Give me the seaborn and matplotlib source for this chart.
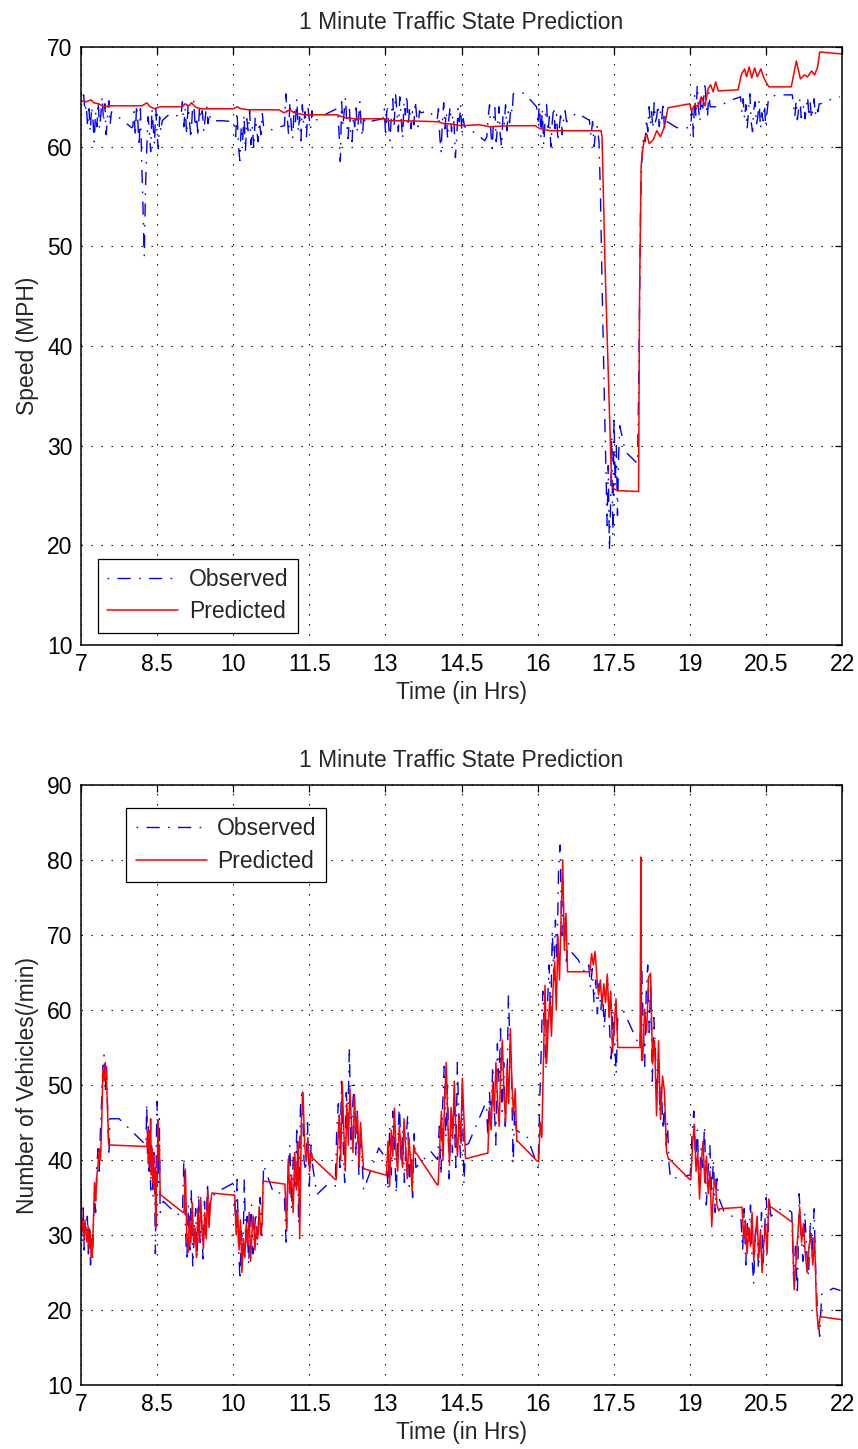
import numpy as np
import matplotlib
matplotlib.use("Agg")
import matplotlib.pyplot as plt
import seaborn as sns

# ---------------------------------------------------------------------------
# Speed panel (MPH).  Predicted: explicit (hour, value) points.
# ---------------------------------------------------------------------------
pred_speed_t = [7.00, 7.10, 7.20, 7.25, 7.35, 7.45, 7.60, 8.00, 8.20, 8.30, 8.36, 8.45,
                8.55, 9.00, 9.05, 9.12, 9.18, 9.25, 9.35, 10.00, 10.08, 10.15, 10.30,
                10.90, 11.00, 11.12, 11.20, 11.40, 12.05, 12.20, 12.40, 13.00, 13.05,
                13.40, 14.05, 14.15, 14.25, 14.50, 14.85, 15.05, 15.45, 15.95, 16.05,
                16.25, 17.25, 17.27, 17.33, 17.40, 17.46, 17.50, 17.56, 17.99, 18.01,
                18.04, 18.07, 18.10, 18.15, 18.20, 18.28, 18.35, 18.42, 18.50, 18.57,
                19.00, 19.03, 19.10, 19.16, 19.23, 19.30, 19.36, 19.41, 19.46, 19.51,
                19.56, 19.95, 20.02, 20.08, 20.12, 20.17, 20.22, 20.28, 20.33, 20.40,
                20.46, 20.50, 20.56, 21.00, 21.10, 21.18, 21.26, 21.32, 21.40, 21.46,
                21.52, 21.56, 22.00]
pred_speed_v = [64.6, 64.5, 64.7, 64.4, 64.3, 64.0, 64.1, 64.1, 64.1, 64.4, 64.0, 63.8,
                64.0, 64.0, 64.3, 64.1, 64.4, 64.0, 63.8, 63.8, 64.0, 63.8, 63.7,
                63.7, 63.4, 63.7, 63.4, 63.2, 63.2, 62.9, 62.8, 62.8, 62.6,
                62.6, 62.5, 62.3, 62.3, 62.1, 62.2, 62.0, 62.1, 62.1, 61.8,
                61.6, 61.6, 61.0, 48.0, 36.0, 26.0, 25.7, 25.5, 25.4, 45.0,
                58.0, 59.6, 60.6, 61.3, 60.3, 60.7, 61.6, 61.0, 62.0, 63.9,
                64.3, 63.6, 64.2, 64.0, 65.0, 64.1, 65.8, 66.2, 65.5, 66.5,
                65.6, 65.7, 67.3, 67.8, 67.0, 68.0, 66.9, 67.9, 67.0, 67.8,
                66.9, 66.5, 66.0, 66.0, 68.6, 66.8, 67.2, 67.0, 67.6, 67.2,
                68.0, 69.5, 69.3]

# Observed speed: runs of roughly 1-2 minute samples (start hour, end hour, values)
obs_speed_start = [7.00, 7.78, 8.02, 8.75, 8.97, 9.80, 10.02, 10.76, 11.01, 11.84, 12.06,
                   12.76, 12.95, 13.86, 14.02, 14.73, 15.00, 15.52, 15.98, 16.77, 17.02,
                   17.24, 17.37, 17.73, 17.99, 18.07, 18.75, 19.02, 19.56, 20.00, 20.70,
                   20.85, 21.02, 21.58, 21.96]
obs_speed_end = [7.60, 8.00, 8.60, 8.75, 9.56, 10.00, 10.60, 10.99, 11.58, 12.04, 12.60,
                 12.76, 13.70, 14.00, 14.56, 14.96, 15.50, 15.75, 16.57, 17.00, 17.21,
                 17.35, 17.62, 17.97, 18.05, 18.55, 19.00, 19.40, 19.78, 20.55, 20.70,
                 21.00, 21.55, 21.76, 21.96]
obs_speed_vals = [
    [65.5, 64.8, 65.2, 63.5, 64.2, 62.0, 63.8, 61.5, 64.0, 62.8, 60.5, 63.5, 62.0, 64.5,
     61.8, 63.2, 65.0, 62.5, 64.3, 61.2, 63.0, 64.6, 62.2, 63.5],
    [62.8, 61.9],
    [62.0, 63.5, 61.0, 64.2, 62.5, 60.0, 63.8, 58.5, 54.0, 49.0, 56.0, 60.0, 63.0, 61.5,
     59.5, 63.8, 62.0, 60.2, 64.0, 61.2, 59.8, 63.0, 61.5, 62.6],
    [63.3],
    [63.0, 64.5, 62.0, 63.8, 61.2, 64.2, 62.5, 60.8, 63.5, 64.6, 62.0, 63.0, 61.0, 64.0,
     62.8, 63.6, 61.5, 62.9, 64.2, 62.3, 63.4, 62.6],
    [62.6, 62.5],
    [62.5, 61.0, 63.5, 60.2, 58.6, 62.0, 60.5, 63.2, 59.5, 62.8, 61.5, 63.6, 60.2, 62.0,
     59.8, 63.0, 61.8, 60.5, 62.5, 61.2, 63.4, 62.0],
    [61.7, 62.1],
    [62.1, 65.3, 63.0, 61.2, 64.5, 62.0, 60.8, 63.8, 62.5, 64.8, 61.5, 63.0, 60.6, 64.2,
     62.2, 63.5, 61.0, 64.0, 62.8, 61.8, 63.6, 62.5],
    [63.3, 63.8],
    [63.8, 61.5, 58.5, 64.5, 62.0, 63.6, 64.9, 62.2, 60.8, 63.8, 61.2, 60.5, 63.0, 62.0,
     64.3, 61.5, 62.8, 64.5, 62.0, 61.0, 63.2, 62.4],
    [62.6],
    [62.8, 63.8, 61.0, 64.2, 62.5, 60.6, 63.0, 64.8, 62.0, 65.3, 63.5, 61.5, 65.0, 62.8,
     60.8, 64.5, 63.2, 65.2, 62.0, 64.0, 61.8, 63.5, 62.2, 64.6, 63.0, 62.0, 63.6, 63.4],
    [63.6, 62.7],
    [62.7, 63.8, 61.0, 59.5, 62.5, 64.4, 61.8, 63.5, 60.8, 62.9, 64.0, 61.5, 63.2, 62.2,
     58.9, 61.0, 63.8, 62.5, 64.2, 61.2, 62.8, 62.0],
    [61.5, 60.6],
    [61.0, 63.0, 64.2, 61.5, 59.8, 62.8, 63.9, 60.5, 62.0, 64.0, 61.2, 60.0, 63.0, 62.2,
     64.2, 61.6, 63.5, 62.4, 64.0, 63.4],
    [65.3, 65.5, 65.3],
    [64.0, 62.2, 64.5, 61.0, 63.8, 60.2, 62.8, 64.2, 61.5, 63.0, 60.0, 62.5, 64.0, 61.8,
     63.2, 60.5, 62.0, 63.5, 61.2, 62.8, 63.6, 62.5],
    [63.4, 62.7],
    [62.7, 61.0, 62.5, 60.0, 61.8, 62.0, 60.5],
    [55.0, 47.0, 40.0, 33.0, 27.0],
    [22.0, 28.0, 19.5, 24.0, 31.0, 21.0, 33.0, 26.0, 30.0, 23.0, 29.0, 32.0],
    [29.4, 28.8, 28.2],
    [35.0, 45.0, 54.0, 58.0],
    [60.0, 61.2, 60.5, 62.8, 61.5, 64.0, 62.2, 63.5, 61.8, 64.4, 62.5, 63.0, 64.2, 62.0,
     63.6, 62.8, 64.5, 61.9, 63.2, 62.5],
    [61.9, 61.9],
    [62.0, 64.0, 61.0, 65.2, 63.0, 66.2, 63.8, 62.5, 65.0, 63.5, 64.8, 66.5, 64.2, 63.0,
     65.5, 64.0],
    [64.0, 64.6],
    [65.0, 63.5, 64.8, 62.8, 64.2, 61.8, 63.5, 65.3, 62.5, 61.5, 63.8, 64.5, 62.2, 63.0,
     64.6, 61.8, 63.4, 62.6, 64.2, 62.0, 63.5, 64.8],
    [65.2],
    [65.2, 65.2],
    [65.2, 64.0, 63.0, 64.6, 62.7, 63.8, 64.8, 62.9, 63.5, 64.2, 62.8, 63.9, 65.0, 63.0,
     64.4, 62.8, 63.6, 64.8, 63.2, 64.0, 63.5, 64.3],
    [64.3, 64.7],
    [65.0],
]

# ---------------------------------------------------------------------------
# Volume panel (vehicles / min), both series stored as runs
# ---------------------------------------------------------------------------
obs_vol_start = [7.00, 7.24, 7.57, 8.28, 8.62, 9.00, 9.78, 10.02, 10.60, 11.01, 11.65,
                 12.01, 12.87, 13.02, 13.90, 14.03, 14.64, 14.99, 15.62, 16.01, 16.67,
                 16.80, 17.01, 17.58, 18.02, 19.01, 19.67, 20.01, 20.80, 21.01, 21.60,
                 21.97]
obs_vol_end = [7.23, 7.55, 7.75, 8.56, 8.90, 9.55, 10.00, 10.56, 10.99, 11.57, 11.85,
               12.57, 13.00, 13.60, 14.02, 14.58, 14.97, 15.58, 15.80, 16.60, 16.67,
               16.93, 17.55, 17.70, 18.62, 19.57, 19.90, 20.60, 20.98, 21.56, 21.83,
               21.97]
obs_vol_vals = [
    [33.0, 29.0, 34.2, 28.0, 31.5, 30.0, 32.5, 27.5, 30.8, 26.0, 29.5, 27.0],
    [30.0, 35.5, 33.0, 39.0, 41.5, 38.5, 44.0, 48.0, 52.5, 54.0, 49.0, 53.0, 46.0, 40.5],
    [45.5, 45.5],
    [42.0, 47.5, 40.5, 45.0, 38.5, 44.0, 36.0, 42.5, 39.5, 35.0, 41.0, 37.5, 27.5, 40.0,
     47.8, 43.0, 37.0, 45.5, 33.0],
    [34.5, 32.7],
    [33.0, 40.3, 31.0, 26.5, 34.0, 28.0, 36.0, 25.8, 30.5, 33.5, 27.0, 35.5, 29.0, 32.0,
     26.8, 34.5, 30.0, 37.0, 32.5, 35.0],
    [36.1, 36.9],
    [36.9, 31.0, 37.4, 28.5, 24.0, 30.5, 27.0, 37.4, 29.0, 32.5, 26.0, 31.5, 34.0, 27.5,
     30.5, 33.0, 28.5, 32.0, 35.0, 30.0],
    [39.3, 35.6, 35.6],
    [35.0, 28.5, 38.0, 42.0, 33.5, 40.5, 36.0, 44.5, 31.5, 47.0, 49.5, 40.0, 38.5, 45.0,
     36.5, 42.0, 39.0],
    [35.4, 36.7],
    [36.5, 44.0, 47.5, 39.0, 50.5, 42.5, 37.0, 49.0, 45.0, 55.0, 41.5, 47.0, 50.0, 40.5,
     46.5, 38.0, 44.0, 40.0, 36.0],
    [41.6, 40.3],
    [40.3, 36.0, 44.5, 38.0, 46.5, 41.5, 35.5, 43.0, 47.5, 39.5, 44.0, 37.0, 42.5, 46.0,
     36.5, 41.0, 35.0, 43.5, 39.0],
    [41.1, 40.1],
    [40.1, 44.5, 38.0, 47.0, 52.5, 43.0, 50.0, 37.5, 45.5, 41.0, 48.0, 39.0, 53.0, 44.5,
     40.0, 49.5, 36.8, 42.0],
    [42.2, 47.5],
    [47.5, 43.0, 49.0, 45.5, 52.5, 47.0, 42.0, 55.5, 50.5, 57.5, 46.5, 53.0, 44.5, 48.5,
     62.0, 55.0, 51.0, 39.5, 47.0, 44.0],
    [43.8, 43.0],
    [39.0, 47.5, 55.0, 62.5, 57.0, 52.0, 61.0, 66.0, 58.5, 70.5, 64.0, 72.0, 66.5, 79.0,
     82.0, 70.0, 74.5, 68.0, 66.5, 69.0],
    [67.7],
    [66.7, 65.0],
    [66.0, 63.0, 65.5, 61.0, 64.0, 59.5, 63.5, 60.0, 62.5, 57.5, 61.5, 64.5, 58.0, 53.5,
     60.0, 56.0, 51.5],
    [59.0, 59.8],
    [55.0, 66.5, 58.0, 52.5, 62.0, 66.0, 57.0, 63.5, 50.5, 59.0, 55.0, 48.0, 53.5, 46.5,
     50.0, 44.0, 47.5, 42.0, 45.0, 39.5, 37.5],
    [38.0, 43.5, 46.5, 40.0, 44.0, 36.5, 41.5, 39.0, 44.5, 34.0, 38.5, 42.0, 35.5, 40.0,
     33.0, 37.5, 35.0],
    [33.2, 32.2],
    [32.0, 28.0, 33.5, 26.0, 31.5, 29.0, 34.0, 27.0, 23.5, 30.0, 32.5, 25.5, 28.5, 33.0,
     26.0, 31.0, 35.0, 30.5, 34.0, 32.5],
    [33.5, 33.2],
    [33.0, 24.0, 28.5, 22.0, 35.5, 30.0, 26.5, 33.0, 28.0, 24.5, 32.0, 27.0, 33.5, 24.0,
     19.0, 16.5],
    [22.1, 22.9],
    [22.6],
]

pred_vol_start = [7.00, 7.22, 7.57, 8.30, 8.58, 9.03, 9.58, 10.03, 10.59, 11.02, 11.59,
                  12.03, 12.59, 13.02, 13.61, 14.04, 14.60, 15.02, 15.61, 16.02, 16.61,
                  17.03, 17.60, 18.02, 18.07, 18.60, 19.02, 19.59, 20.03, 20.61, 21.02,
                  21.59]
pred_vol_end = [7.20, 7.55, 8.28, 8.56, 9.01, 9.55, 10.01, 10.57, 11.00, 11.57, 12.01,
                12.57, 13.00, 13.59, 14.02, 14.58, 15.00, 15.59, 16.00, 16.59, 17.01,
                17.58, 18.01, 18.05, 18.58, 19.00, 19.57, 20.01, 20.59, 21.00, 21.57,
                22.00]
pred_vol_vals = [
    [36.2, 30.5, 31.8, 29.5, 32.0, 30.2, 29.0, 31.2, 28.2, 30.5, 27.0],
    [27.0, 31.5, 37.0, 34.5, 38.0, 39.5, 41.5, 40.0, 45.0, 52.0, 50.5, 53.0, 51.0, 46.0,
     42.0],
    [42.0, 41.8],
    [41.8, 44.0, 39.5, 43.5, 40.0, 45.5, 38.0, 41.5, 37.0, 40.5, 36.0, 39.0, 31.0, 38.5,
     36.5, 45.3, 40.0, 42.0, 35.5],
    [35.3, 33.0],
    [33.0, 38.8, 30.0, 27.7, 32.5, 29.0, 34.3, 28.5, 31.0, 27.0, 33.5, 29.0, 35.0, 30.5,
     28.2, 33.0, 29.5, 35.9, 31.0, 34.0],
    [35.6, 35.3],
    [35.3, 30.0, 33.5, 28.0, 32.0, 25.0, 29.5, 27.0, 31.5, 28.5, 33.0, 26.5, 30.5, 32.5,
     28.0, 31.0, 29.5, 33.8, 30.0, 31.5],
    [37.2, 36.8],
    [36.8, 30.8, 40.1, 35.5, 38.0, 33.0, 41.0, 36.0, 42.5, 29.5, 45.0, 49.0, 42.0, 39.8,
     43.0, 38.5, 41.0, 40.1],
    [40.1, 37.4],
    [37.4, 42.0, 46.0, 40.0, 50.4, 44.0, 38.5, 47.5, 42.0, 49.5, 45.0, 41.0, 48.5, 43.5,
     46.0, 39.0, 45.0, 41.5, 38.8],
    [38.8, 38.0],
    [38.0, 42.5, 36.5, 44.0, 40.5, 46.9, 41.0, 38.5, 44.5, 42.0, 39.0, 45.5, 41.5, 37.5,
     43.0, 40.0, 35.9, 42.0, 40.9],
    [40.9, 36.7],
    [36.7, 42.0, 46.5, 40.0, 48.0, 53.0, 45.0, 39.5, 47.0, 43.0, 50.5, 44.0, 40.5, 46.0,
     42.5, 50.9, 45.5, 40.2],
    [40.2, 40.9],
    [40.9, 47.0, 44.0, 50.0, 46.5, 53.0, 48.0, 44.5, 51.5, 56.0, 49.0, 45.0, 52.5, 47.5,
     57.5, 50.0, 46.0, 49.5, 42.5],
    [42.5, 39.8],
    [39.8, 45.0, 43.0, 53.0, 63.3, 52.9, 58.0, 61.5, 56.5, 63.0, 66.5, 60.0, 69.8, 64.0,
     72.5, 80.0, 68.0, 72.9, 65.1],
    [65.1, 65.1],
    [65.1, 67.5, 66.0, 67.8, 64.5, 62.0, 64.0, 60.5, 63.5, 61.0, 64.8, 59.0, 62.5, 54.3,
     58.0, 61.5, 55.0],
    [55.0, 55.0],
    [55.0, 80.4, 53.3],
    [53.3, 60.1, 57.0, 64.4, 64.9, 52.8, 55.9, 45.9, 55.9, 45.4, 51.2, 49.1, 41.1, 40.1],
    [40.1, 37.4],
    [37.4, 42.0, 44.8, 38.5, 41.0, 34.8, 39.5, 42.5, 37.0, 40.5, 35.5, 38.5, 31.1, 36.0,
     37.4, 34.0, 33.2],
    [33.5, 33.7],
    [33.7, 29.5, 32.0, 27.5, 31.0, 28.5, 33.0, 26.5, 30.0, 32.5, 27.0, 30.5, 25.0, 29.0,
     31.5, 27.5, 34.8, 33.7],
    [33.7, 31.8],
    [31.8, 22.7, 26.5, 30.0, 33.7, 29.0, 31.5, 27.4, 25.0, 28.5, 30.1, 26.0, 29.5, 20.5,
     17.4, 19.2],
    [19.1, 18.7],
]

hour_ticks = [7, 8.5, 10, 11.5, 13, 14.5, 16, 17.5, 19, 20.5, 22]
hour_labels = ["7", "8.5", "10", "11.5", "13", "14.5", "16", "17.5", "19", "20.5", "22"]

TITLE = "1 Minute Traffic State Prediction"
XLABEL = "Time (in Hrs)"


def expand(starts, ends, vals):
    """Turn runs of samples into one continuous time/value pair of arrays."""
    t = np.concatenate([np.linspace(a, b, len(v)) for a, b, v in zip(starts, ends, vals)])
    y = np.concatenate([np.asarray(v, dtype=float) for v in vals])
    return t, y


sns.set_style("white")
plt.rcParams["font.family"] = ["Liberation Sans", "DejaVu Sans"]
plt.rcParams["font.size"] = 16.5
plt.rcParams["lines.scale_dashes"] = False

# MATLAB-like '-.' : starts on the dot, then a long dash
DASHDOT = (15.5, (9.5, 6.0, 1.2, 6.0))
GRID = (0, (1.0, 6.2))
FS = 16.5


def draw_panel(ax, obs_t, obs_v, pred_t, pred_v, yticks, ylabel, leg_loc, leg_anchor):
    sns.lineplot(x=obs_t, y=obs_v, ax=ax, color="blue", lw=1.0, linestyle=DASHDOT,
                 label="Observed", estimator=None, sort=False)
    sns.lineplot(x=pred_t, y=pred_v, ax=ax, color="red", lw=1.1,
                 label="Predicted", estimator=None, sort=False)
    ax.set_xlim(7, 22)
    ax.set_ylim(yticks[0], yticks[-1])
    ax.set_xticks(hour_ticks)
    ax.set_xticklabels(hour_labels)
    ax.set_yticks(yticks)
    ax.grid(True, color="black", lw=0.8, linestyle=GRID)
    ax.set_axisbelow(True)
    ax.tick_params(direction="in", length=5, width=0.9, top=True, right=True,
                   labelsize=FS, pad=6, colors="black")
    for s in ax.spines.values():
        s.set_color("black")
        s.set_linewidth(1.1)
    ax.set_title(TITLE, fontsize=FS, pad=13)
    ax.set_xlabel(XLABEL, fontsize=FS, labelpad=3)
    ax.set_ylabel(ylabel, fontsize=FS, labelpad=6)
    leg = ax.legend(loc=leg_loc, bbox_to_anchor=leg_anchor, borderaxespad=0,
                    fontsize=FS, handlelength=3.1, handletextpad=0.45,
                    borderpad=0.42, labelspacing=0.4, fancybox=False,
                    framealpha=1, edgecolor="black")
    leg.get_frame().set_linewidth(0.9)


fig = plt.figure(figsize=(8.58, 14.49), dpi=100)
W, H = 858, 1449
ax1 = fig.add_axes([81 / W, 1 - 645 / H, 761 / W, 598 / H])
ax2 = fig.add_axes([81 / W, 1 - 1385 / H, 761 / W, 600 / H])

t, v = expand(obs_speed_start, obs_speed_end, obs_speed_vals)
draw_panel(ax1, t, v, pred_speed_t, pred_speed_v, [10, 20, 30, 40, 50, 60, 70],
           "Speed (MPH)", "lower left", (0.022, 0.02))

t, v = expand(obs_vol_start, obs_vol_end, obs_vol_vals)
pt, pv = expand(pred_vol_start, pred_vol_end, pred_vol_vals)
draw_panel(ax2, t, v, pt, pv, [10, 20, 30, 40, 50, 60, 70, 80, 90],
           "Number of Vehicles(/min)", "upper left", (0.059, 0.962))

fig.savefig("out.png", dpi=100)
